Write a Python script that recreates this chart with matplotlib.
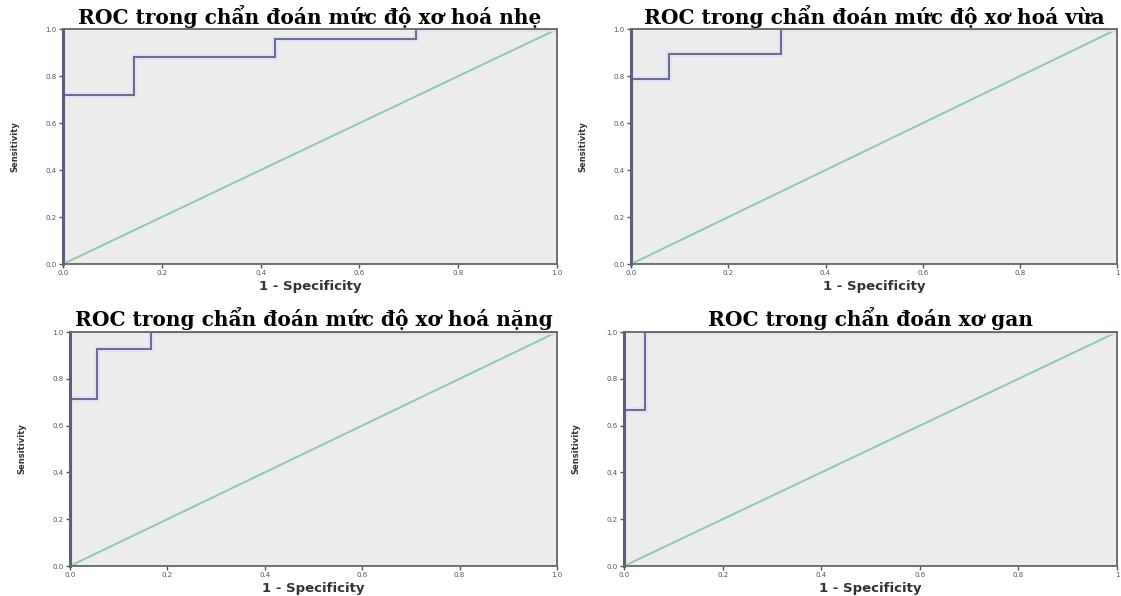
import matplotlib
matplotlib.use('Agg')
import matplotlib.pyplot as plt

# ROC curves (1 - specificity, sensitivity) for each diagnosis
titles = [
    'ROC trong chẩn đoán mức độ xơ hoá nhẹ',
    'ROC trong chẩn đoán mức độ xơ hoá vừa',
    'ROC trong chẩn đoán mức độ xơ hoá nặng',
    'ROC trong chẩn đoán xơ gan',
]

fpr_nhe = [0.0, 0.0, 0.143, 0.143, 0.429, 0.429, 0.714, 0.714, 1.0]
tpr_nhe = [0.0, 0.72, 0.72, 0.88, 0.88, 0.96, 0.96, 1.0, 1.0]

fpr_vua = [0.0, 0.0, 0.077, 0.077, 0.308, 0.308, 1.0]
tpr_vua = [0.0, 0.79, 0.79, 0.895, 0.895, 1.0, 1.0]

fpr_nang = [0.0, 0.0, 0.056, 0.056, 0.167, 0.167, 1.0]
tpr_nang = [0.0, 0.714, 0.714, 0.929, 0.929, 1.0, 1.0]

fpr_gan = [0.0, 0.0, 0.043, 0.043, 1.0]
tpr_gan = [0.0, 0.667, 0.667, 1.0, 1.0]

fprs = [fpr_nhe, fpr_vua, fpr_nang, fpr_gan]
tprs = [tpr_nhe, tpr_vua, tpr_nang, tpr_gan]

ticks = [0.0, 0.2, 0.4, 0.6, 0.8, 1.0]
ytick_labels = ['0.0', '0.2', '0.4', '0.6', '0.8', '1.0']
xtick_labels = [
    ['0.0', '0.2', '0.4', '0.6', '0.8', '1.0'],
    ['0.0', '0.2', '0.4', '0.6', '0.8', '1'],
    ['0.0', '0.2', '0.4', '0.6', '0.8', '1.0'],
    ['0.0', '0.2', '0.4', '0.6', '0.8', '1'],
]

# axes boxes [left, bottom, width, height]
boxes = [
    [0.0562, 0.557, 0.4407, 0.394],
    [0.563, 0.557, 0.4335, 0.394],
    [0.0624, 0.0503, 0.4344, 0.3926],
    [0.5567, 0.0503, 0.4398, 0.3926],
]

fig = plt.figure(figsize=(11.21, 5.96), dpi=100)

for i in range(4):
    ax = fig.add_axes(boxes[i])
    ax.set_facecolor('#ececec')

    ax.plot([0, 1], [0, 1], color='#8fcba6', lw=1.4, zorder=2)
    ax.plot(fprs[i], tprs[i], color='#dfe1f0', lw=4, zorder=3, solid_joinstyle='miter')
    ax.plot(fprs[i], tprs[i], color='#666a96', lw=1.4, zorder=4, solid_joinstyle='miter')

    ax.set_xlim(0, 1)
    ax.set_ylim(0, 1)
    ax.set_xticks(ticks)
    ax.set_xticklabels(xtick_labels[i])
    ax.set_yticks(ticks)
    ax.set_yticklabels(ytick_labels)
    ax.tick_params(direction='out', length=3, width=1, color='#555555',
                   labelsize=5, labelcolor='#555555', pad=1.5)

    # frame drawn over the curves, as in the SPSS output
    for side in ['left', 'bottom', 'top', 'right']:
        ax.spines[side].set_color('#666666')
        ax.spines[side].set_linewidth(1.3)
        ax.spines[side].set_zorder(6)
    ax.spines['left'].set_linewidth(2.2)
    ax.spines['left'].set_color('#5c5f7a')

    ax.set_title(titles[i], family='DejaVu Serif', fontweight='bold',
                 fontsize=14.5, pad=4)
    ax.set_xlabel('1 - Specificity', family='DejaVu Sans', fontweight='bold',
                  fontsize=9.5, labelpad=3, color='#333333')
    ax.set_ylabel('Sensitivity', family='DejaVu Sans', fontweight='bold',
                  fontsize=6, labelpad=19, color='#333333')

fig.savefig('out.png', dpi=100)
